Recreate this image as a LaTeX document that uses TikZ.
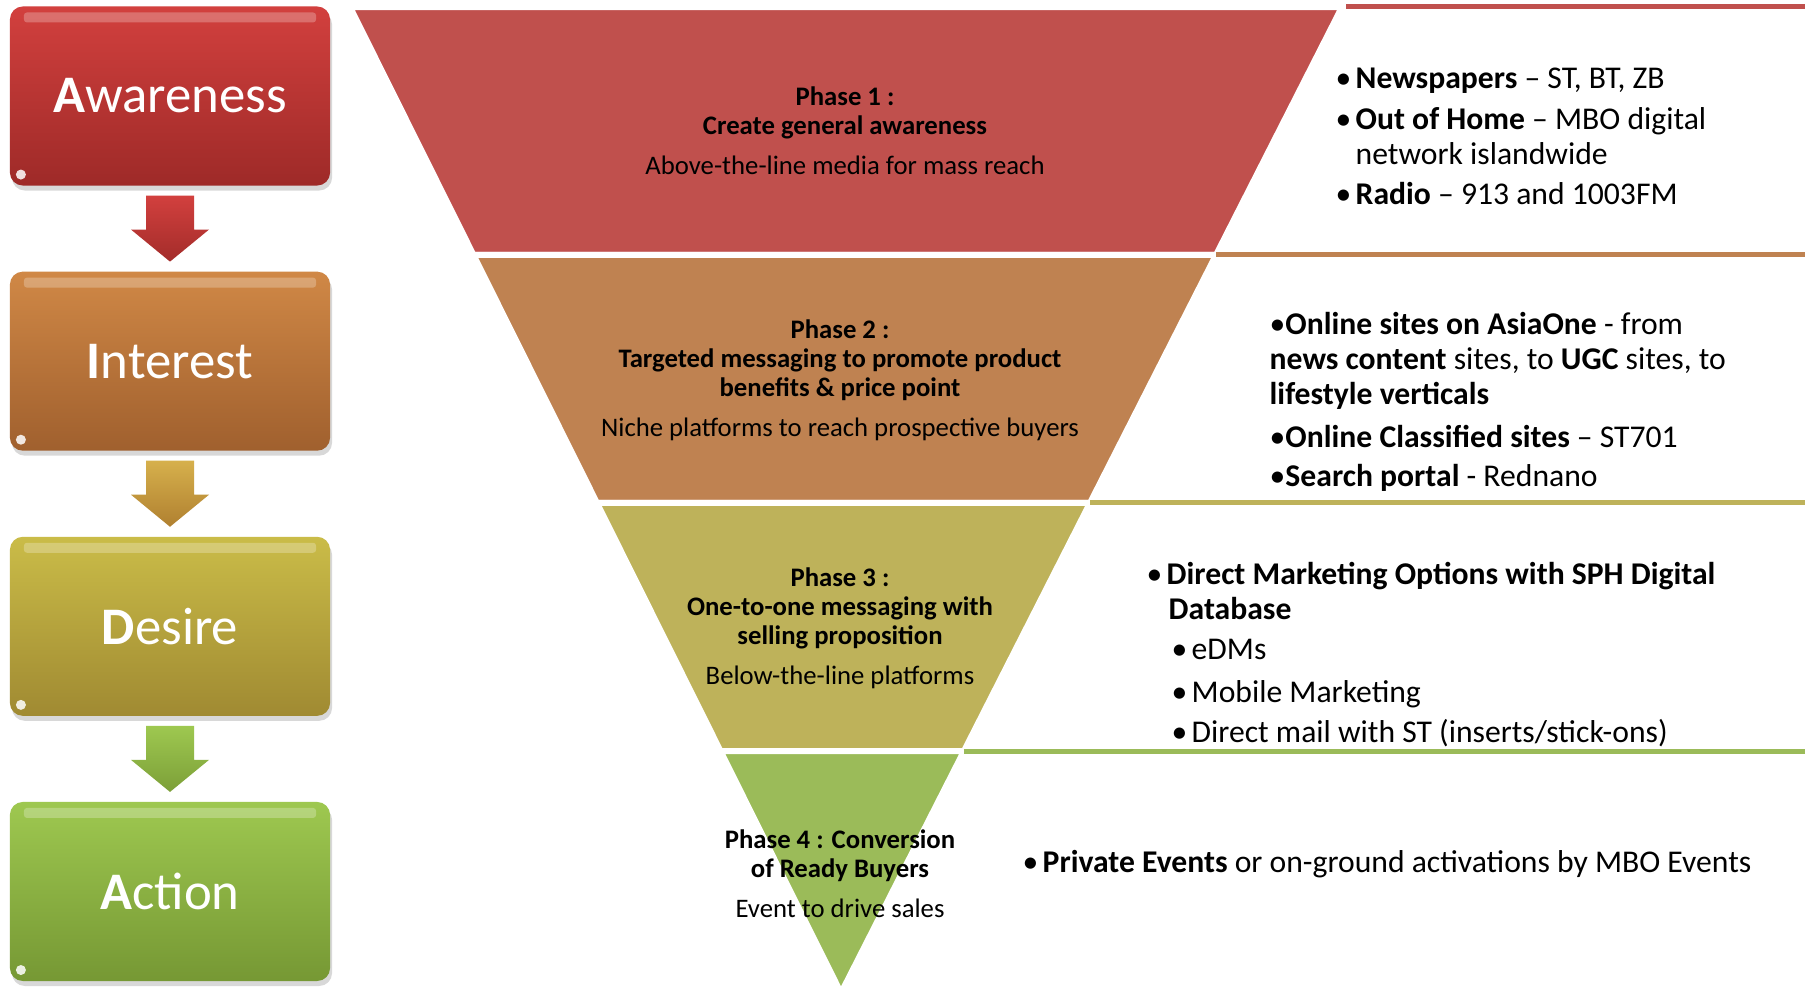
\documentclass[tikz,border=0pt]{standalone}
\usepackage{fontspec}
\setmainfont{Carlito}
\usetikzlibrary{positioning, calc, shadows}

% stage boxes
\definecolor{awtop}{RGB}{210,64,62}
\definecolor{awbot}{RGB}{158,42,40}
\definecolor{intop}{RGB}{208,136,70}
\definecolor{inbot}{RGB}{160,96,46}
\definecolor{detop}{RGB}{202,188,72}
\definecolor{debot}{RGB}{160,138,50}
\definecolor{actop}{RGB}{158,200,80}
\definecolor{acbot}{RGB}{118,152,52}
\definecolor{goldtop}{RGB}{214,176,76}
\definecolor{goldbot}{RGB}{176,128,48}
% funnel bands
\definecolor{fred}{RGB}{192,80,77}
\definecolor{forange}{RGB}{191,130,81}
\definecolor{folive}{RGB}{190,178,90}
\definecolor{fgreen}{RGB}{155,187,89}

\newcommand{\bul}{\makebox[0.2cm][l]{\textbullet}}
% block arrow from the bottom of one stage to the top of the next
\newcommand{\stagearrow}[3]{%
  \path[#3] ($(#1.south)+(-24,10)$) -- ($(#1.south)+(24,10)$) -- ($(#1.south)+(24,44)$)
    -- ($(#1.south)+(39,44)$) -- ($(#2.north)+(0,-10)$) -- ($(#1.south)+(-39,44)$)
    -- ($(#1.south)+(-24,44)$) -- cycle;}

\begin{document}
\begin{tikzpicture}[x=0.01cm, y=-0.01cm, node distance=0.86cm]
    % Styles
    \tikzstyle{stage} = [rectangle, rounded corners=0.13cm, minimum width=3.2cm, minimum height=1.79cm, inner sep=0pt, outer sep=0pt, text=white, font=\fontsize{15}{18}\selectfont,
        drop shadow={opacity=0.3, shadow xshift=0.02cm, shadow yshift=-0.05cm},
        path picture={\fill[white, opacity=0.25, rounded corners=0.03cm] ($(path picture bounding box.north west)+(14,6)$) rectangle ($(path picture bounding box.north east)+(-14,16)$);
            \fill[white, opacity=0.85] ($(path picture bounding box.south west)+(11,-11)$) circle (0.05cm);}]
    \tikzstyle{band} = [draw=white, line width=0.06cm, line join=round]
    \tikzstyle{hline} = [line width=0.05cm]
    \tikzstyle{phase} = [align=center, inner sep=0pt, anchor=north, font=\fontsize{7.6}{8.3}\selectfont]
    \tikzstyle{media} = [align=left, inner sep=0pt, anchor=north west, font=\fontsize{9}{9.96}\selectfont]

    \useasboundingbox[fill=white] (0,0) rectangle (1805,996);

    % AIDA stages
    \node[stage, top color=awtop, bottom color=awbot] (aw) at (170,96) {\textbf{A}wareness};
    \node[stage, top color=intop, bottom color=inbot, below=of aw] (in) {\textbf{I}nterest};
    \node[stage, top color=detop, bottom color=debot, below=of in] (de) {\textbf{D}esire};
    \node[stage, top color=actop, bottom color=acbot, below=of de] (ac) {\textbf{A}ction};

    \stagearrow{aw}{in}{top color=awtop, bottom color=awbot!90!awtop}
    \stagearrow{in}{de}{top color=goldtop, bottom color=goldbot}
    \stagearrow{de}{ac}{top color=actop, bottom color=acbot!85!actop}

    % Funnel
    \coordinate (ftl) at (350,7);
    \coordinate (ftr) at (1342,7);
    \coordinate (tip) at (841,993);
    \coordinate (edge) at (1805,0);
    \coordinate (l1) at ($(ftl)!0.2515!(tip)$);
    \coordinate (r1) at ($(ftr)!0.2515!(tip)$);
    \coordinate (l2) at ($(ftl)!0.503!(tip)$);
    \coordinate (r2) at ($(ftr)!0.503!(tip)$);
    \coordinate (l3) at ($(ftl)!0.7546!(tip)$);
    \coordinate (r3) at ($(ftr)!0.7546!(tip)$);

    \path[band, fill=fred] (ftl) -- (ftr) -- (r1) -- (l1) -- cycle;
    \path[band, fill=forange] (l1) -- (r1) -- (r2) -- (l2) -- cycle;
    \path[band, fill=folive] (l2) -- (r2) -- (r3) -- (l3) -- cycle;
    \path[band, fill=fgreen] (l3) -- (r3) -- (tip) -- cycle;

    % rules running out to the media lists
    \draw[hline, fred] ($(ftr)+(4,-1)$) -- ($(ftr -| edge)+(0,-1)$);
    \draw[hline, forange] (r1) -- (r1 -| edge);
    \draw[hline, folive] (r2) -- (r2 -| edge);
    \draw[hline, fgreen] (r3) -- (r3 -| edge);

    % Phases
    \node[phase] (p1) at (845,86) {\textbf{Phase 1 :}\\\textbf{Create general awareness}\\[3.1pt]Above-the-line media for mass reach};
    \node[phase] (p2) at (840,319) {\textbf{Phase 2 :}\\\textbf{Targeted messaging to promote product}\\\textbf{benefits \& price point}\\[3.1pt]Niche platforms to reach prospective buyers};
    \node[phase] (p3) at (840,567) {\textbf{Phase 3 :}\\\textbf{One-to-one messaging with}\\\textbf{selling proposition}\\[3.1pt]Below-the-line platforms};
    \node[phase] (p4) at (840,829) {\textbf{Phase 4 : Conversion}\\\textbf{of Ready Buyers}\\[3.1pt]Event to drive sales};

    % Media lists
    \node[media] (m1) at (1335,67) {\bul\textbf{Newspapers} – ST, BT, ZB\\[1.7pt]
        \bul\textbf{Out of Home} – MBO digital\\
        \hspace*{0.2cm}network islandwide\\[1.4pt]
        \bul\textbf{Radio} – 913 and 1003FM};
    \node[media] (m2) at (1269,312) {\textbullet\textbf{Online sites on AsiaOne} - from\\
        \textbf{news content} sites, to \textbf{UGC} sites, to\\
        \textbf{lifestyle verticals}\\[2pt]
        \textbullet\textbf{Online Classified sites} – ST701\\[1.4pt]
        \textbullet\textbf{Search portal} - Rednano};
    \node[media] (m3) at (1146,562) {\bul\textbf{Direct Marketing Options with SPH Digital}\\
        \hspace*{0.22cm}\textbf{Database}\\[1.4pt]
        \hspace*{0.25cm}\bul eDMs\\[2.2pt]
        \hspace*{0.25cm}\bul Mobile Marketing\\[1.4pt]
        \hspace*{0.25cm}\bul Direct mail with ST (inserts/stick-ons)};
    \node[media] (m4) at (1022,850) {\bul\textbf{Private Events} or on-ground activations by MBO Events};
\end{tikzpicture}
\end{document}
